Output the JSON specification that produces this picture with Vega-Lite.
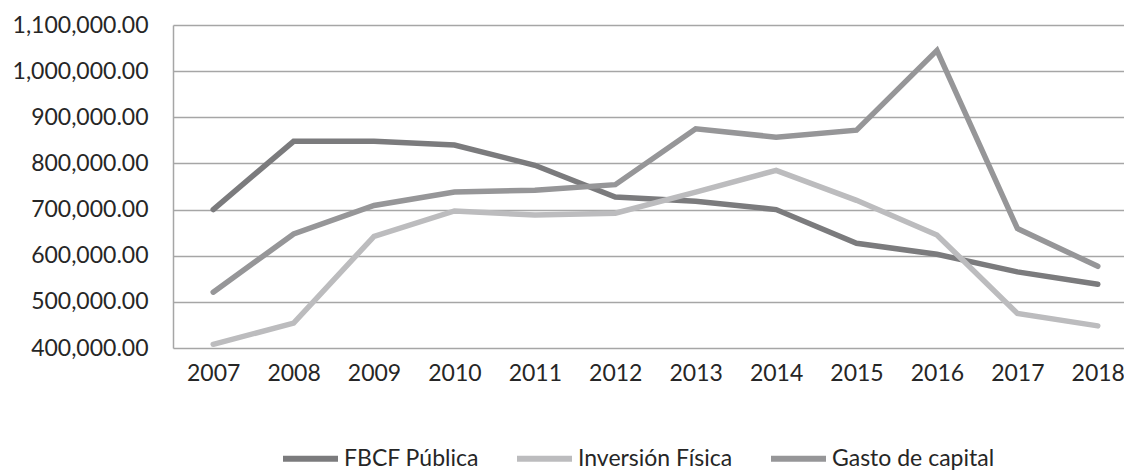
{
  "$schema": "https://vega.github.io/schema/vega-lite/v6.json",
  "autosize": "none",
  "width": 965,
  "height": 323,
  "padding": {"left": 173, "top": 25, "right": 0, "bottom": 126},
  "background": "white",
  "config": {
    "font": "Lato",
    "view": {"stroke": null},
    "axis": {"labelFont": "Lato", "labelColor": "#262626", "labelFontSize": 23, "ticks": false, "title": null}
  },
  "data": {
    "values": [
      {"year": "2007", "serie": "FBCF Pública", "v": 700000},
      {"year": "2008", "serie": "FBCF Pública", "v": 848000},
      {"year": "2009", "serie": "FBCF Pública", "v": 848000},
      {"year": "2010", "serie": "FBCF Pública", "v": 840000},
      {"year": "2011", "serie": "FBCF Pública", "v": 796000},
      {"year": "2012", "serie": "FBCF Pública", "v": 727000},
      {"year": "2013", "serie": "FBCF Pública", "v": 718000},
      {"year": "2014", "serie": "FBCF Pública", "v": 700000},
      {"year": "2015", "serie": "FBCF Pública", "v": 627000},
      {"year": "2016", "serie": "FBCF Pública", "v": 603000},
      {"year": "2017", "serie": "FBCF Pública", "v": 565000},
      {"year": "2018", "serie": "FBCF Pública", "v": 538000},
      {"year": "2007", "serie": "Inversión Física", "v": 408000},
      {"year": "2008", "serie": "Inversión Física", "v": 454000},
      {"year": "2009", "serie": "Inversión Física", "v": 642000},
      {"year": "2010", "serie": "Inversión Física", "v": 697000},
      {"year": "2011", "serie": "Inversión Física", "v": 688000},
      {"year": "2012", "serie": "Inversión Física", "v": 692000},
      {"year": "2013", "serie": "Inversión Física", "v": 738000},
      {"year": "2014", "serie": "Inversión Física", "v": 785000},
      {"year": "2015", "serie": "Inversión Física", "v": 720000},
      {"year": "2016", "serie": "Inversión Física", "v": 645000},
      {"year": "2017", "serie": "Inversión Física", "v": 475000},
      {"year": "2018", "serie": "Inversión Física", "v": 448000},
      {"year": "2007", "serie": "Gasto de capital", "v": 521000},
      {"year": "2008", "serie": "Gasto de capital", "v": 647000},
      {"year": "2009", "serie": "Gasto de capital", "v": 709000},
      {"year": "2010", "serie": "Gasto de capital", "v": 738000},
      {"year": "2011", "serie": "Gasto de capital", "v": 742000},
      {"year": "2012", "serie": "Gasto de capital", "v": 754000},
      {"year": "2013", "serie": "Gasto de capital", "v": 875000},
      {"year": "2014", "serie": "Gasto de capital", "v": 857000},
      {"year": "2015", "serie": "Gasto de capital", "v": 872000},
      {"year": "2016", "serie": "Gasto de capital", "v": 1045000},
      {"year": "2017", "serie": "Gasto de capital", "v": 659000},
      {"year": "2018", "serie": "Gasto de capital", "v": 577000}
    ]
  },
  "mark": {"type": "line", "strokeWidth": 5.5, "strokeCap": "round"},
  "encoding": {
    "x": {
      "field": "year", "type": "ordinal",
      "scale": {"type": "point", "padding": 0.5},
      "axis": {"labelAngle": 0, "domain": false, "grid": false, "labelPadding": 14}
    },
    "y": {
      "field": "v", "type": "quantitative",
      "scale": {"domain": [400000, 1100000], "nice": false, "zero": false},
      "axis": {"values": [400000, 500000, 600000, 700000, 800000, 900000, 1000000, 1100000], "format": ",.2f", "grid": true, "gridColor": "#a6a6a6", "gridWidth": 1.5, "domain": true, "domainColor": "#a6a6a6", "domainWidth": 1.5, "labelPadding": 25}
    },
    "color": {
      "field": "serie", "type": "nominal",
      "scale": {"domain": ["FBCF Pública", "Inversión Física", "Gasto de capital"], "range": ["#7b7b7d", "#bcbcbe", "#969698"]},
      "legend": {"orient": "none", "legendX": 107, "legendY": 403, "direction": "horizontal", "title": null, "symbolType": "stroke", "symbolSize": 3025, "symbolStrokeWidth": 6, "labelFontSize": 23, "labelFont": "Lato", "labelColor": "#262626", "labelOffset": 3, "columnPadding": 26, "labelLimit": 300}
    }
  }
}
